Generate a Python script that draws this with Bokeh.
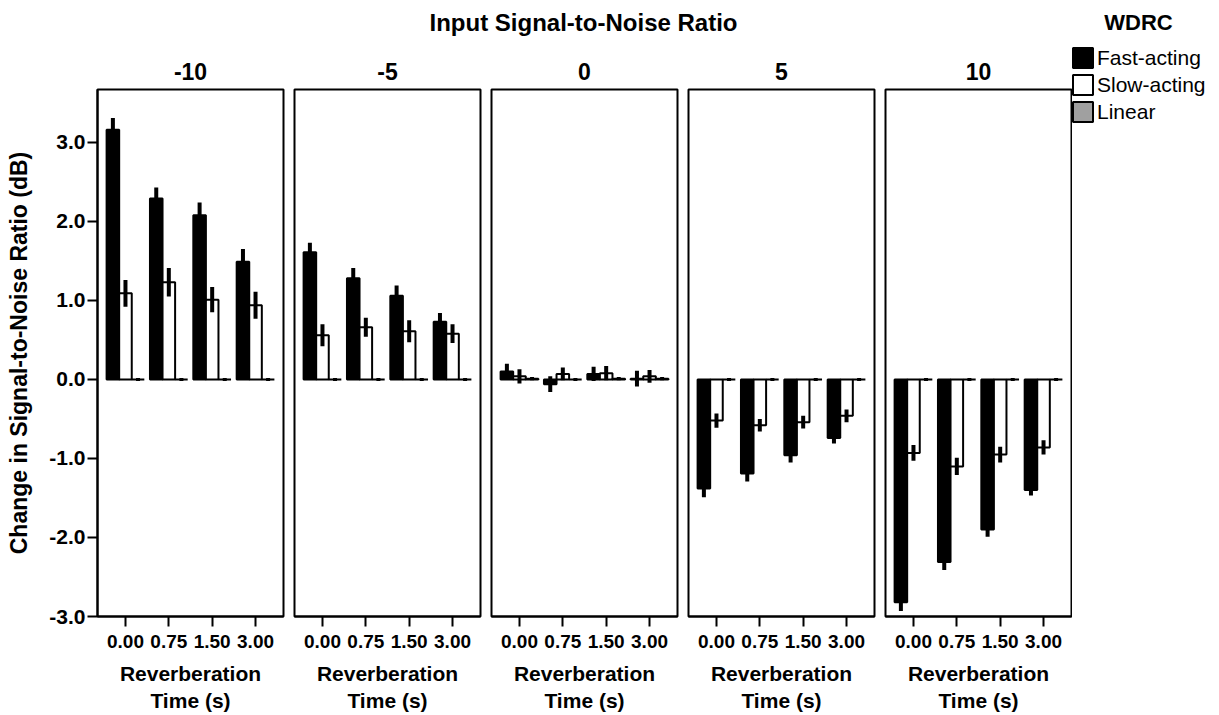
from bokeh.plotting import figure
from bokeh.layouts import row, column
from bokeh.models import Range1d, FixedTicker, Legend, LegendItem, ColumnDataSource
from bokeh.core.properties import value
from bokeh.embed import file_html
from bokeh.resources import INLINE

# ---------------- data ----------------
snr_levels = ["-10", "-5", "0", "5", "10"]
rt_labels = ["0.00", "0.75", "1.50", "3.00"]
y_ticks = [-3, -2, -1, 0, 1, 2, 3]
y_tick_labels = ["-3.0", "-2.0", "-1.0", "0.0", "1.0", "2.0", "3.0"]
series_names = ["Fast-acting", "Slow-acting", "Linear"]
main_title = "Input Signal-to-Noise Ratio"
legend_title = "WDRC"

fast_m10 = [3.16, 2.29, 2.08, 1.49]
fast_m5 = [1.61, 1.28, 1.06, 0.73]
fast_0 = [0.10, -0.06, 0.07, 0.01]
fast_5 = [-1.38, -1.19, -0.96, -0.74]
fast_10 = [-2.82, -2.31, -1.90, -1.40]

fast_err_m10 = [0.15, 0.14, 0.16, 0.16]
fast_err_m5 = [0.12, 0.13, 0.13, 0.11]
fast_err_0 = [0.10, 0.10, 0.09, 0.10]
fast_err_5 = [0.11, 0.10, 0.09, 0.07]
fast_err_10 = [0.11, 0.10, 0.09, 0.07]

slow_m10 = [1.09, 1.23, 1.01, 0.94]
slow_m5 = [0.56, 0.66, 0.61, 0.58]
slow_0 = [0.04, 0.07, 0.08, 0.04]
slow_5 = [-0.52, -0.58, -0.54, -0.46]
slow_10 = [-0.93, -1.10, -0.95, -0.86]

slow_err_m10 = [0.17, 0.18, 0.16, 0.17]
slow_err_m5 = [0.14, 0.12, 0.14, 0.12]
slow_err_0 = [0.09, 0.08, 0.09, 0.08]
slow_err_5 = [0.09, 0.08, 0.08, 0.08]
slow_err_10 = [0.10, 0.11, 0.10, 0.09]

linear_m10 = [0.0, 0.0, 0.0, 0.0]
linear_m5 = [0.0, 0.0, 0.0, 0.0]
linear_0 = [0.01, 0.0, 0.01, 0.01]
linear_5 = [0.0, 0.0, 0.0, 0.0]
linear_10 = [0.0, 0.0, 0.0, 0.0]

linear_err_m10 = [0.02, 0.02, 0.02, 0.02]
linear_err_m5 = [0.02, 0.02, 0.02, 0.02]
linear_err_0 = [0.02, 0.02, 0.02, 0.02]
linear_err_5 = [0.02, 0.02, 0.02, 0.02]
linear_err_10 = [0.02, 0.02, 0.02, 0.02]

fast_all = [fast_m10, fast_m5, fast_0, fast_5, fast_10]
fast_err_all = [fast_err_m10, fast_err_m5, fast_err_0, fast_err_5, fast_err_10]
slow_all = [slow_m10, slow_m5, slow_0, slow_5, slow_10]
slow_err_all = [slow_err_m10, slow_err_m5, slow_err_0, slow_err_5, slow_err_10]
linear_all = [linear_m10, linear_m5, linear_0, linear_5, linear_10]
linear_err_all = [linear_err_m10, linear_err_m5, linear_err_0, linear_err_5, linear_err_10]

# ---------------- style / layout ----------------
FONT = "Liberation Sans"
W = 1219
H = 715
TOP_H = 45          # strip holding the overall title
FRAME_W = 186
FRAME_TOP = 89
BOTTOM = 99
Y_LO, Y_HI = -3.0, 3.67
X_LO, X_HI = -0.645, 3.645
BAR_W = 0.29
OFFSETS = [-BAR_W, 0.0, BAR_W]
FILLS = ["black", "white", "#a0a0a0"]
LEFT0 = 97
GAP_L, GAP_R = 6, 5
LAST_R = 1
PANELS_W = LEFT0 + FRAME_W + GAP_R + 3 * (GAP_L + FRAME_W + GAP_R) + GAP_L + FRAME_W + LAST_R
LEG_W = W - PANELS_W


def style_axis(ax, label, label_size, tick_size):
    ax.axis_label = label
    ax.axis_label_text_font = FONT
    ax.axis_label_text_font_size = label_size
    ax.axis_label_text_font_style = "bold"
    ax.axis_label_text_color = "black"
    ax.major_label_text_font = FONT
    ax.major_label_text_font_size = tick_size
    ax.major_label_text_font_style = "bold"
    ax.major_label_text_color = "black"
    ax.major_tick_out = 10
    ax.major_tick_in = 0
    ax.major_tick_line_width = 2
    ax.major_tick_line_color = "black"
    ax.minor_tick_line_color = None
    ax.axis_line_width = 2
    ax.axis_line_color = "black"


def bare_figure(width, height, x0, x1, y0, y1, bl, br):
    f = figure(width=width, height=height, title=None,
               x_range=Range1d(x0, x1), y_range=Range1d(y0, y1),
               output_backend="svg", toolbar_location=None,
               x_axis_location=None, y_axis_location=None,
               min_border_left=bl, min_border_right=br,
               min_border_top=0, min_border_bottom=0)
    f.frame_align = False
    f.outline_line_color = None
    f.xgrid.visible = False
    f.ygrid.visible = False
    return f


# ---- top strip: overall title (page pixel coordinates) ----
top = bare_figure(PANELS_W, TOP_H, LEFT0, PANELS_W - GAP_R, 0, TOP_H, LEFT0, GAP_R)
top.text(x=[583], y=[TOP_H - 22], text=[main_title], text_align="center",
         text_baseline="middle", text_font=value(FONT), text_font_size="24px",
         text_font_style="bold", text_color="black")

# ---- panels ----
figs = []
n = len(snr_levels)
for i, snr in enumerate(snr_levels):
    left = LEFT0 if i == 0 else GAP_L
    right = LAST_R if i == n - 1 else GAP_R
    p = figure(width=left + FRAME_W + right, height=H - TOP_H,
               x_range=Range1d(X_LO, X_HI), y_range=Range1d(Y_LO, Y_HI),
               output_backend="svg", toolbar_location=None,
               min_border_left=left, min_border_right=right,
               min_border_top=FRAME_TOP - TOP_H, min_border_bottom=BOTTOM,
               y_axis_location="left" if i == 0 else None)
    p.title.text = snr
    p.title.align = "center"
    p.title.text_font = FONT
    p.title.text_font_size = "23px"
    p.title.text_font_style = "bold"
    p.title.text_color = "black"
    p.title.standoff = 20
    p.outline_line_color = "black"
    p.outline_line_width = 2
    p.outline_line_alpha = 1
    p.xgrid.visible = False
    p.ygrid.visible = False

    xs = list(range(len(rt_labels)))
    series = [(fast_all[i], fast_err_all[i]),
              (slow_all[i], slow_err_all[i]),
              (linear_all[i], linear_err_all[i])]
    for s, (vals, errs) in enumerate(series):
        xc = [x + OFFSETS[s] for x in xs]
        src = ColumnDataSource(dict(x=xc, top=vals,
                                    lo=[v - e for v, e in zip(vals, errs)],
                                    hi=[v + e for v, e in zip(vals, errs)]))
        p.vbar(x="x", top="top", bottom=0, width=BAR_W, source=src,
               fill_color=FILLS[s], line_color="black", line_width=2)
        p.segment(x0="x", y0="lo", x1="x", y1="hi", source=src,
                  line_color="black", line_width=4)

    ax = p.xaxis[0]
    ax.ticker = FixedTicker(ticks=xs)
    ax.major_label_overrides = {x: lab for x, lab in zip(xs, rt_labels)}
    style_axis(ax, "Reverberation\nTime (s)", "21px", "19px")
    ax.axis_label_standoff = 11
    ax.major_label_standoff = 8

    if i == 0:
        ay = p.yaxis[0]
        ay.ticker = FixedTicker(ticks=y_ticks)
        ay.major_label_overrides = {t: lab for t, lab in zip(y_ticks, y_tick_labels)}
        style_axis(ay, "Change in Signal-to-Noise Ratio (dB)", "23px", "21px")
        ay.axis_label_standoff = 14
        ay.major_label_standoff = 2
    figs.append(p)

# ---- legend canvas (page pixel coordinates, y measured up from the bottom) ----
leg = bare_figure(LEG_W, H, PANELS_W, W, 0, H, 0, 0)
leg_rends = []
nan = float("nan")
for s in range(len(series_names)):
    # swatch-only renderers: a single undefined point, so nothing is drawn in the frame
    r = leg.vbar(x=[nan], top=[nan], bottom=0, width=1,
                 fill_color=FILLS[s], line_color="black", line_width=2)
    leg_rends.append(r)
legend = Legend(items=[LegendItem(label=nm, renderers=[r])
                       for nm, r in zip(series_names, leg_rends)],
                location=(-2, H - 124),
                padding=0, margin=0, spacing=2,
                glyph_width=25, glyph_height=25, label_height=25,
                label_standoff=2, label_text_font=FONT,
                label_text_font_size="21px", label_text_color="black",
                border_line_alpha=0, background_fill_alpha=0)
leg.add_layout(legend)
leg.text(x=[1138], y=[H - 22], text=[legend_title], text_align="center",
         text_baseline="middle", text_font=value(FONT), text_font_size="22px",
         text_font_style="bold", text_color="black")

layout = row(column(top, row(*figs)), leg)
open("out.html", "w").write(file_html(layout, INLINE))
